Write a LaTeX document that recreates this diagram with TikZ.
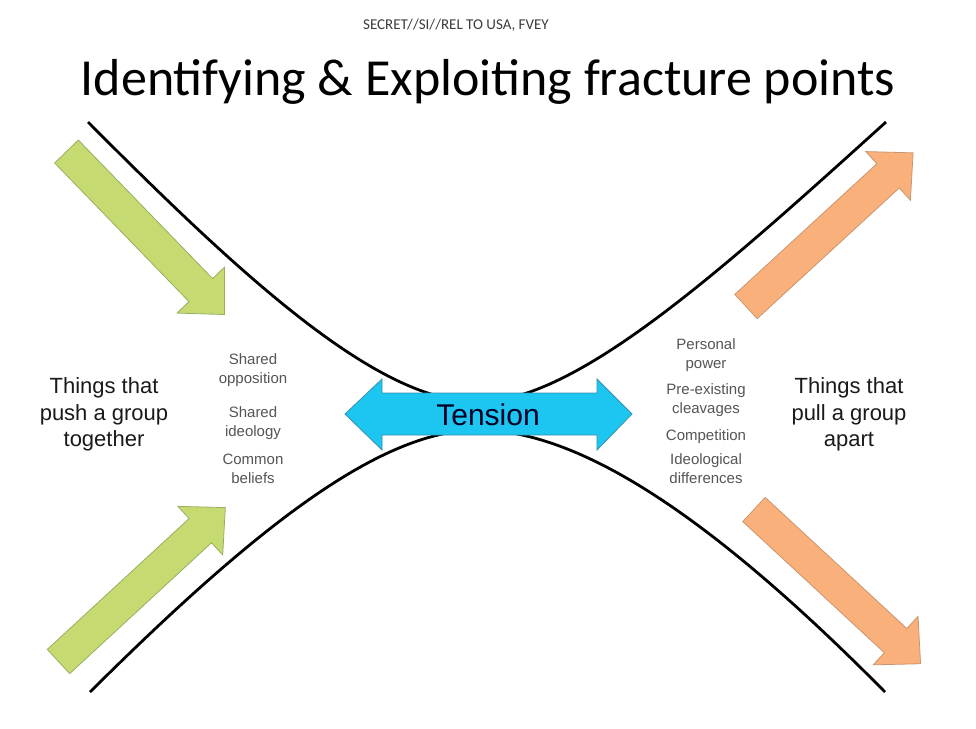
\documentclass[tikz,border=0pt]{standalone}
\usepackage{fontspec}
\setmainfont{Liberation Sans}
\newfontfamily\calfont{Carlito}
\definecolor{greenfill}{HTML}{C5DB72}
\definecolor{greenline}{HTML}{9AAE62}
\definecolor{orangefill}{HTML}{FAB07A}
\definecolor{orangeline}{HTML}{C99670}
\definecolor{cyanfill}{HTML}{1CC6F0}
\definecolor{cyanline}{HTML}{3A8FB0}
\definecolor{smallgray}{HTML}{555555}
\definecolor{darktext}{HTML}{1A1A1A}
\begin{document}
\begin{tikzpicture}[x=1pt,y=-1pt,
  curve/.style={line width=2.8pt,black},
  greenarrow/.style={fill=greenfill,draw=greenline,line width=0.8pt,line join=miter},
  orangearrow/.style={fill=orangefill,draw=orangeline,line width=0.8pt,line join=miter},
  fatarrow/.pic={\path[pic actions] (0,-16.5) -- (193,-16.5) -- (193,-33) -- (227,0) -- (193,33) -- (193,16.5) -- (0,16.5) -- cycle;},
  sidetext/.style={align=center,font=\fontsize{22}{26.5}\selectfont,text=darktext,inner sep=0pt},
  smalltext/.style={align=center,font=\fontsize{15}{19}\selectfont,text=smallgray,inner sep=0pt}
]
\fill[white] (0,0) rectangle (976,728);
\useasboundingbox (0,0) rectangle (976,728);

% header and title
\node[font=\calfont\fontsize{15}{18}\selectfont,text=darktext!85] (hdr) at (456,25) {SECRET//SI//REL TO USA, FVEY};
\node[font=\calfont\fontsize{52}{60}\selectfont,text=black] (title) at (488,82) {Identifying \& Exploiting fracture points};

% curves
\coordinate (ul) at (88,122);
\coordinate (ur) at (886,122);
\coordinate (ll) at (90,692);
\coordinate (lr) at (885,692);
\coordinate (topmid) at (478,402);
\coordinate (botmid) at (478,430);
\draw[curve] (ul) .. controls (250,285) and (380,402) .. (topmid) .. controls (576,402) and (720,272) .. (ur);
\draw[curve] (ll) .. controls (255,528) and (380,430) .. (botmid) .. controls (576,430) and (705,510) .. (lr);

% pushing / pulling arrows
\pic[greenarrow,rotate=-45.9] (gUL) at (66.5,151.5) {fatarrow};
\pic[greenarrow,rotate=42.7] (gLL) at (58.5,661.5) {fatarrow};
\pic[orangearrow,rotate=42.6] (oUR) at (746,306.5) {fatarrow};
\pic[orangearrow,rotate=-42.8] (oLR) at (754,509.5) {fatarrow};

% tension arrow
\fill[cyanfill,draw=cyanline,line width=0.8pt,line join=miter]
  (345,414) -- (382,379) -- (382,393) -- (597,393) -- (597,379) -- (632,414)
  -- (597,450) -- (597,435) -- (382,435) -- (382,450) -- cycle;
\node[font=\fontsize{30}{34}\selectfont,text=black!85!blue,inner sep=0pt] (tension) at (488,415) {Tension};

% side texts
\node[sidetext] (push) at (104,414.5) {Things that\\push a group\\together};
\node[sidetext] (pull) at (849,414.5) {Things that\\pull a group\\apart};

% left small texts
\node[smalltext] (opp) at (253,370) {Shared\\opposition};
\node[smalltext] (ideo) at (253,423) {Shared\\ideology};
\node[smalltext] (beliefs) at (253,469) {Common\\beliefs};

% right small texts
\node[smalltext] (power) at (706,355) {Personal\\power};
\node[smalltext] (cleav) at (706,400.5) {Pre-existing\\cleavages};
\node[smalltext] (comp) at (706,437) {Competition};
\node[smalltext] (diff) at (706,468.5) {Ideological\\differences};
\end{tikzpicture}
\end{document}
